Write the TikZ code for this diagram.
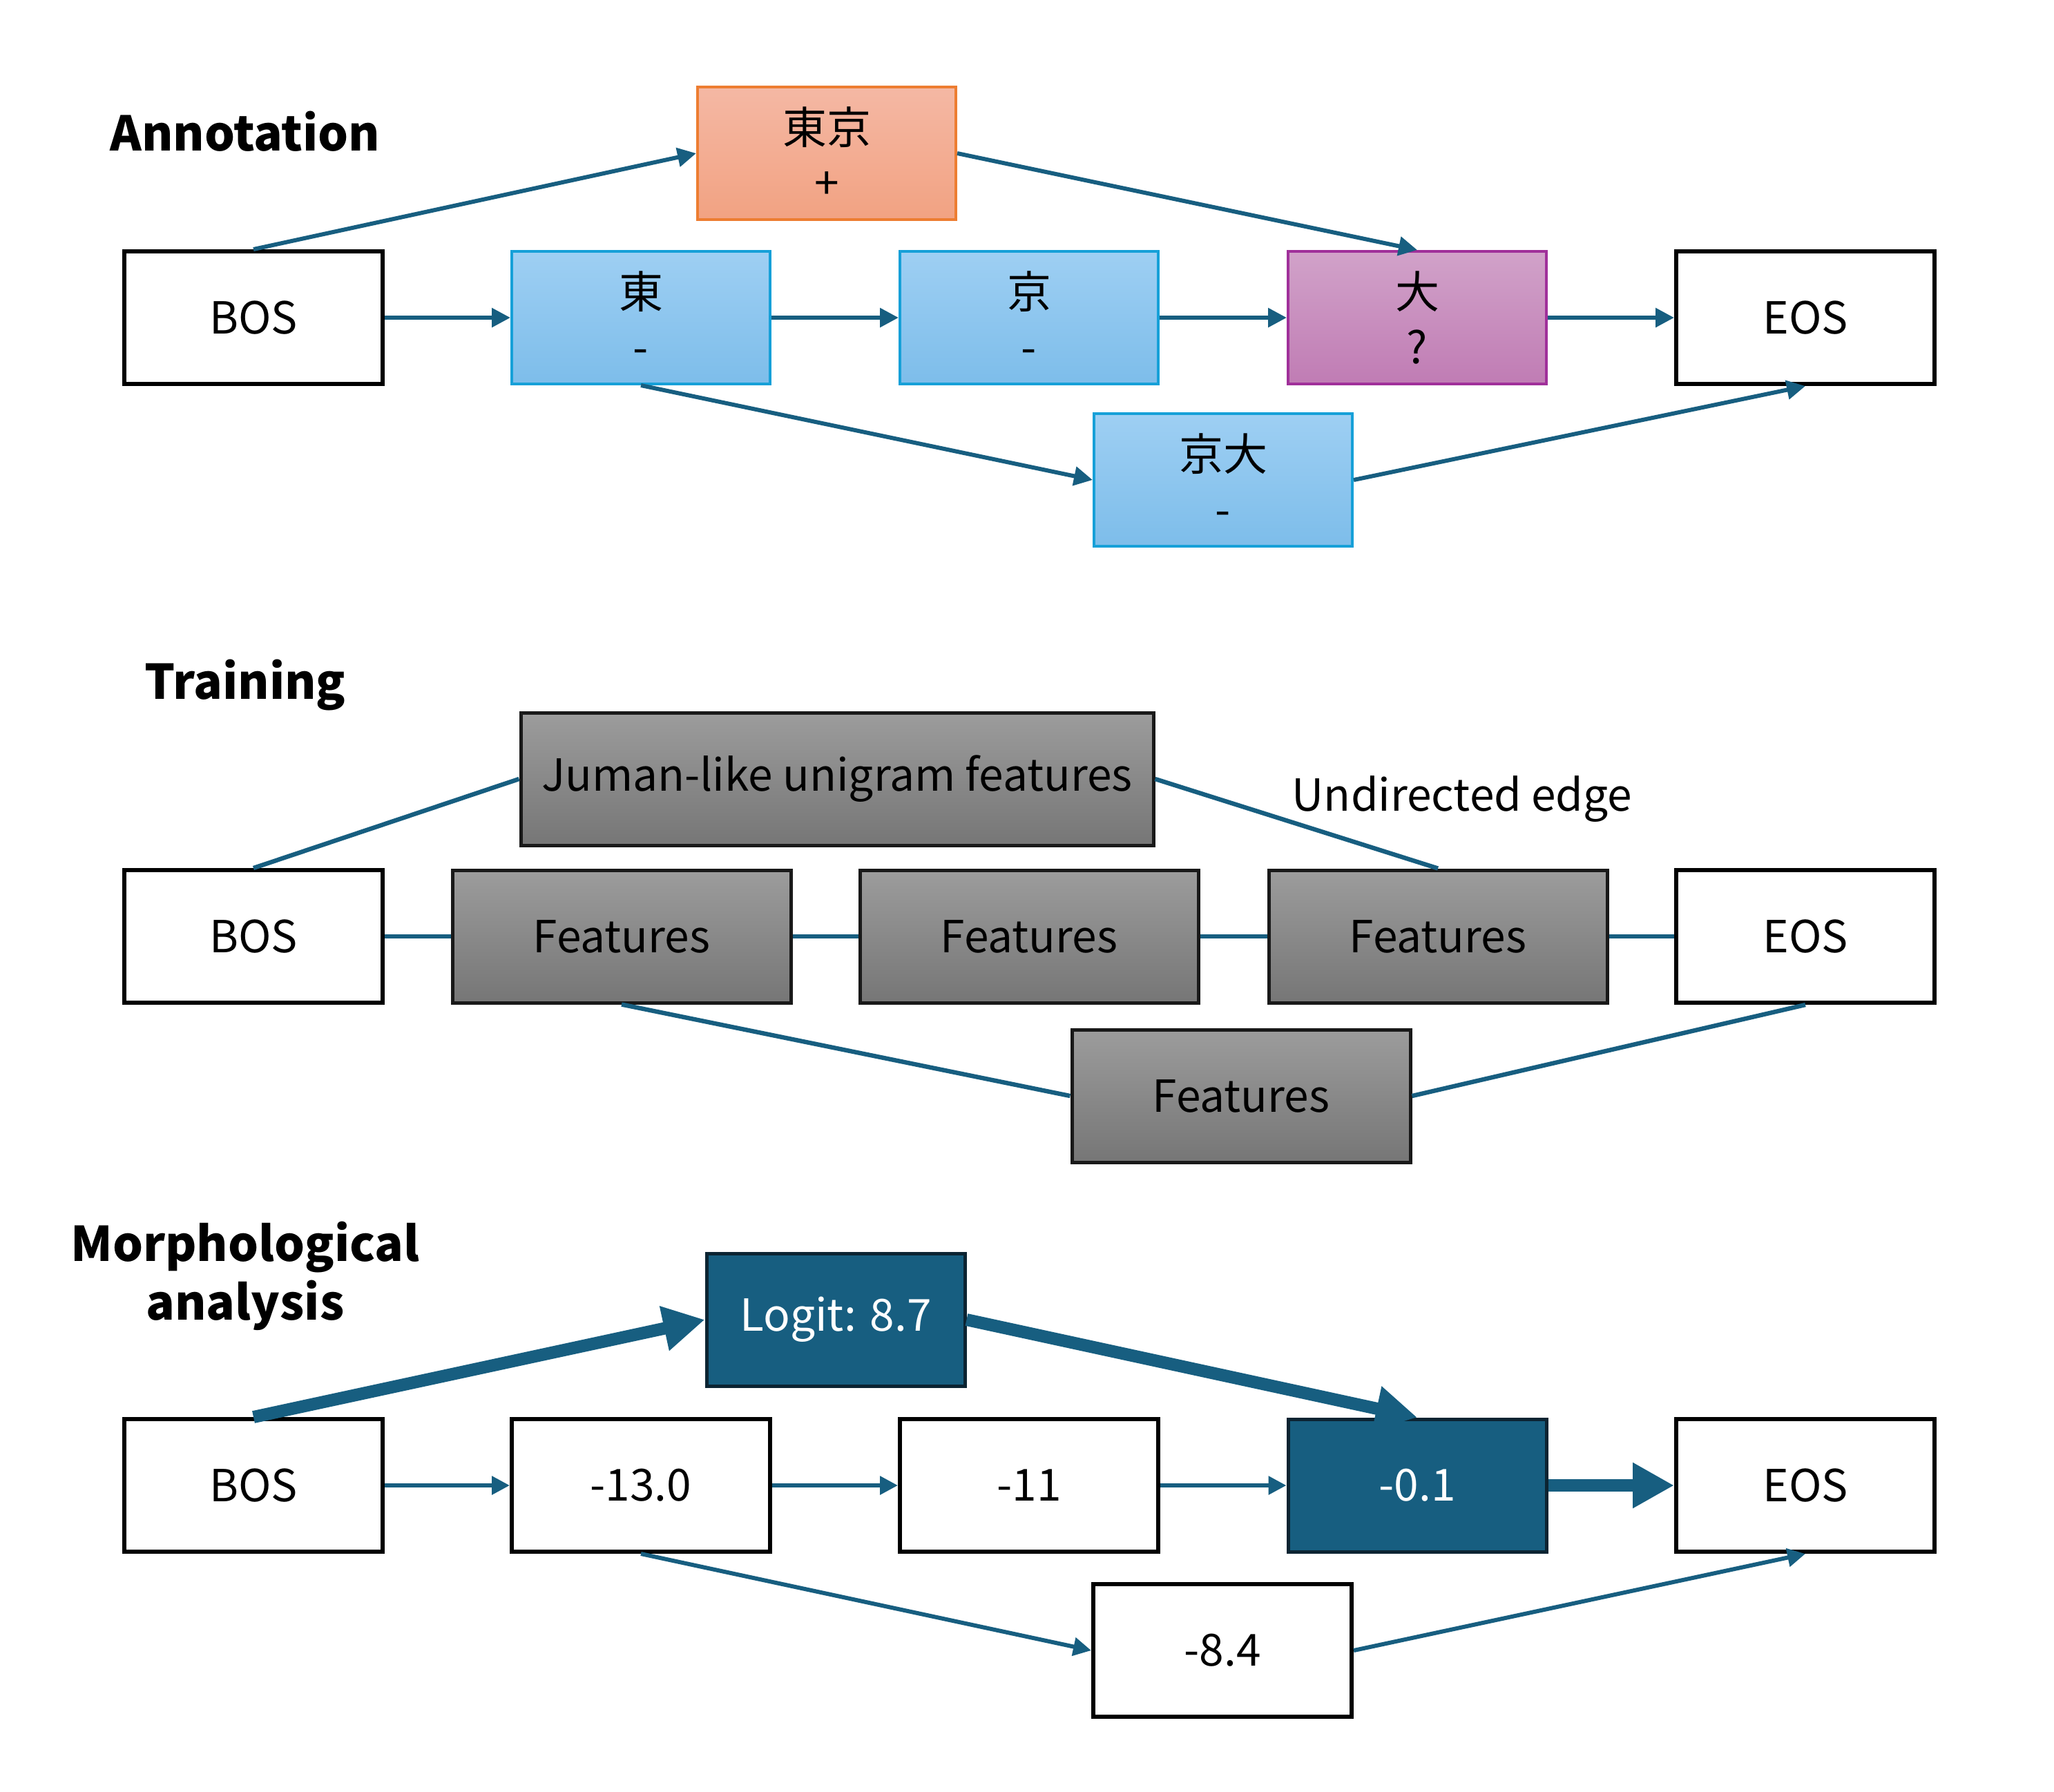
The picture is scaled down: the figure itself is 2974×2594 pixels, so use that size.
\documentclass[tikz,border=0pt]{standalone}
\usepackage{fontspec}
\setmainfont{Noto Sans CJK JP}
\usetikzlibrary{arrows.meta}
\definecolor{edgec}{RGB}{23,94,128}
\definecolor{orangebd}{RGB}{237,125,49}
\definecolor{orangeT}{RGB}{244,184,164}
\definecolor{orangeB}{RGB}{242,162,130}
\definecolor{bluebd}{RGB}{22,160,216}
\definecolor{blueT}{RGB}{158,207,243}
\definecolor{blueB}{RGB}{125,189,234}
\definecolor{purpbd}{RGB}{160,48,154}
\definecolor{purpT}{RGB}{209,162,201}
\definecolor{purpB}{RGB}{192,124,180}
\definecolor{grayT}{RGB}{156,156,156}
\definecolor{grayB}{RGB}{118,118,118}
\definecolor{darkbd}{RGB}{12,36,50}
\begin{document}
\begin{tikzpicture}[x=0.25pt,y=-0.25pt,
  box/.style={rectangle, inner sep=0pt, minimum width=93.5pt, minimum height=48pt,
    align=center, font=\fontsize{16}{20}\selectfont},
  wbox/.style={box, draw=black, line width=1.5pt, fill=white},
  orbox/.style={box, draw=orangebd, line width=1pt, top color=orangeT, bottom color=orangeB},
  blbox/.style={box, draw=bluebd, line width=1pt, top color=blueT, bottom color=blueB},
  pubox/.style={box, draw=purpbd, line width=1pt, top color=purpT, bottom color=purpB},
  grbox/.style={box, draw=black!90, line width=1.25pt, top color=grayT, bottom color=grayB, minimum width=122.5pt},
  dkbox/.style={box, draw=darkbd, line width=1.25pt, fill=edgec, text=white},
  title/.style={font=\fontsize{17.3}{21.3}\selectfont\bfseries, align=center},
  arr/.style={draw=edgec, line width=1.5pt, -{Triangle[length=6.75pt,width=6.75pt]}},
  thinarr/.style={draw=edgec, line width=1.5pt, -{Triangle[length=6.5pt,width=6.5pt]}},
  bigarr/.style={draw=edgec, line width=4.5pt, -{Triangle[length=15pt,width=15.5pt]}},
  uedge/.style={draw=edgec, line width=1.6pt},
]
\useasboundingbox (0,0) rectangle (2974,2594);

% ---------------- Annotation ----------------
\node[title] (t1) at (355,190) {Annotation};
\node[wbox] (bos1) at (367,460) {BOS};
\node[orbox] (tokyo) at (1197,222) {東京\\+};
\node[blbox] (higashi) at (928,460) {東\\-};
\node[blbox] (kyo) at (1490,460) {京\\-};
\node[pubox] (dai) at (2052,460) {大\\?};
\node[wbox] (eos1) at (2614,460) {EOS};
\node[blbox] (kyodai) at (1771,695) {京大\\-};

\draw[arr] (bos1.north) -- (tokyo.west);
\draw[arr] (tokyo.east) -- (dai.north);
\draw[arr] (bos1.east) -- (higashi.west);
\draw[arr] (higashi.east) -- (kyo.west);
\draw[arr] (kyo.east) -- (dai.west);
\draw[arr] (dai.east) -- (eos1.west);
\draw[arr] (higashi.south) -- (kyodai.west);
\draw[arr] (kyodai.east) -- (eos1.south);

% ---------------- Training ----------------
\node[title] (t2) at (355,992) {Training};
\node[wbox] (bos2) at (367,1356) {BOS};
\node[grbox, minimum width=229pt] (juman) at (1212,1128) {Juman-like unigram features};
\node[grbox] (f1) at (900,1356) {Features};
\node[grbox] (f2) at (1490,1356) {Features};
\node[grbox] (f3) at (2082,1356) {Features};
\node[wbox] (eos2) at (2614,1356) {EOS};
\node[grbox] (f4) at (1797,1587) {Features};
\node[font=\fontsize{16}{20}\selectfont] (ulabel) at (2117,1157) {Undirected edge};

\draw[uedge] (bos2.north) -- (juman.west);
\draw[uedge] (juman.east) -- (f3.north);
\draw[uedge] (bos2.east) -- (f1.west);
\draw[uedge] (f1.east) -- (f2.west);
\draw[uedge] (f2.east) -- (f3.west);
\draw[uedge] (f3.east) -- (eos2.west);
\draw[uedge] (f1.south) -- (f4.west);
\draw[uedge] (f4.east) -- (eos2.south);

% ---------------- Morphological analysis ----------------
\node[title] (t3) at (355,1848) {Morphological\\analysis};
\node[wbox] (bos3) at (367,2151) {BOS};
\node[dkbox] (logit) at (1210,1911) {Logit: 8.7};
\node[wbox] (m1) at (928,2151) {-13.0};
\node[wbox] (m2) at (1490,2151) {-11};
\node[dkbox] (m3) at (2052,2151) {-0.1};
\node[wbox] (eos3) at (2614,2151) {EOS};
\node[wbox] (m4) at (1770,2390) {-8.4};

\draw[bigarr] (bos3.north) -- (logit.west);
\draw[bigarr] (logit.east) -- (m3.north);
\draw[bigarr] (m3.east) -- (eos3.west);
\draw[thinarr] (bos3.east) -- (m1.west);
\draw[thinarr] (m1.east) -- (m2.west);
\draw[thinarr] (m2.east) -- (m3.west);
\draw[thinarr] (m1.south) -- (m4.west);
\draw[thinarr] (m4.east) -- (eos3.south);
\end{tikzpicture}
\end{document}
